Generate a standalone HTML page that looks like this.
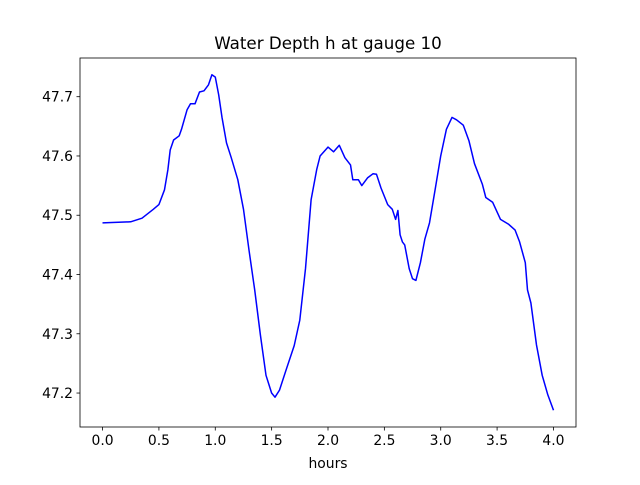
<!DOCTYPE html>
<html><head><meta charset="utf-8"><style>
body{margin:0;background:#fff;}
svg text{font-family:"DejaVu Sans","Liberation Sans",sans-serif;fill:#000;}
</style></head><body>
<svg id="chart" width="640" height="480" xmlns="http://www.w3.org/2000/svg">
<rect width="640" height="480" fill="#fff"/>
<text x="328" y="49" font-size="16.7" text-anchor="middle">Water Depth h at gauge 10</text>
<text x="328" y="468" font-size="13.9" text-anchor="middle">hours</text>
<g id="ticks"></g>
<path id="series" fill="none" stroke="#0000ff" stroke-width="1.5" stroke-linejoin="round"/>
<rect x="80" y="58" width="496" height="369" fill="none" stroke="#000" stroke-width="0.8"/>
</svg>
<script>
const hours=[0,0.25,0.35,0.45,0.5,0.55,0.58,0.6,0.63,0.68,0.7,0.75,0.78,0.82,0.86,0.9,0.94,0.97,1.0,1.03,1.06,1.1,1.14,1.2,1.25,1.3,1.35,1.4,1.45,1.5,1.53,1.57,1.63,1.7,1.75,1.8,1.85,1.9,1.93,2.0,2.05,2.1,2.15,2.2,2.22,2.27,2.3,2.35,2.4,2.43,2.47,2.53,2.57,2.6,2.62,2.64,2.66,2.68,2.72,2.75,2.78,2.82,2.86,2.9,2.95,3.0,3.05,3.1,3.14,3.2,3.25,3.3,3.37,3.4,3.46,3.53,3.6,3.66,3.7,3.75,3.77,3.8,3.85,3.9,3.95,4.0];
const depth=[47.487,47.489,47.495,47.510,47.518,47.543,47.577,47.61,47.627,47.634,47.645,47.678,47.688,47.688,47.708,47.71,47.72,47.737,47.733,47.703,47.665,47.622,47.598,47.56,47.51,47.44,47.374,47.298,47.23,47.2,47.193,47.205,47.24,47.28,47.323,47.41,47.526,47.577,47.6,47.615,47.607,47.618,47.597,47.585,47.56,47.56,47.55,47.563,47.57,47.569,47.546,47.518,47.51,47.493,47.508,47.467,47.455,47.45,47.41,47.393,47.39,47.42,47.46,47.487,47.543,47.6,47.645,47.665,47.661,47.652,47.626,47.587,47.552,47.53,47.522,47.493,47.485,47.475,47.455,47.42,47.374,47.352,47.281,47.23,47.197,47.171];
const xTicks=[0.0,0.5,1.0,1.5,2.0,2.5,3.0,3.5,4.0];
const yTicks=[47.2,47.3,47.4,47.5,47.6,47.7];
const L=80,R=576,T=58,B=427;
const xmin=-0.2,xmax=4.2;
const ymin=Math.min(...depth),ymax=Math.max(...depth),pad=(ymax-ymin)*0.05;
const y0=ymin-pad,y1=ymax+pad;
const sx=v=>L+(v-xmin)/(xmax-xmin)*(R-L);
const sy=v=>B-(v-y0)/(y1-y0)*(B-T);
const NS="http://www.w3.org/2000/svg";
const g=document.getElementById('ticks');
xTicks.forEach(t=>{
 const l=document.createElementNS(NS,'line');
 
 
 l.setAttribute('x1',sx(t));l.setAttribute('x2',sx(t));l.setAttribute('y1',B);l.setAttribute('y2',B+3.5);l.setAttribute('stroke','#000');l.setAttribute('stroke-width','0.8');g.appendChild(l);
 const tx=document.createElementNS(NS,'text');
 
 
 tx.setAttribute('x',sx(t));tx.setAttribute('y',B+18);tx.setAttribute('font-size','13.9');tx.setAttribute('text-anchor','middle');tx.textContent=t.toFixed(1);g.appendChild(tx);
});
yTicks.forEach(t=>{
 const l=document.createElementNS(NS,'line');
 
 
 l.setAttribute('x1',L-3.5);l.setAttribute('x2',L);l.setAttribute('y1',sy(t));l.setAttribute('y2',sy(t));l.setAttribute('stroke','#000');l.setAttribute('stroke-width','0.8');g.appendChild(l);
 const tx=document.createElementNS(NS,'text');
 
 
 tx.setAttribute('x',L-7);tx.setAttribute('y',sy(t)+5);tx.setAttribute('font-size','13.9');tx.setAttribute('text-anchor','end');tx.textContent=t.toFixed(1);g.appendChild(tx);
});
document.getElementById('series').setAttribute('d',hours.map((h,i)=>(i?'L':'M')+sx(h).toFixed(1)+','+sy(depth[i]).toFixed(1)).join(''));
</script>
</body></html>
